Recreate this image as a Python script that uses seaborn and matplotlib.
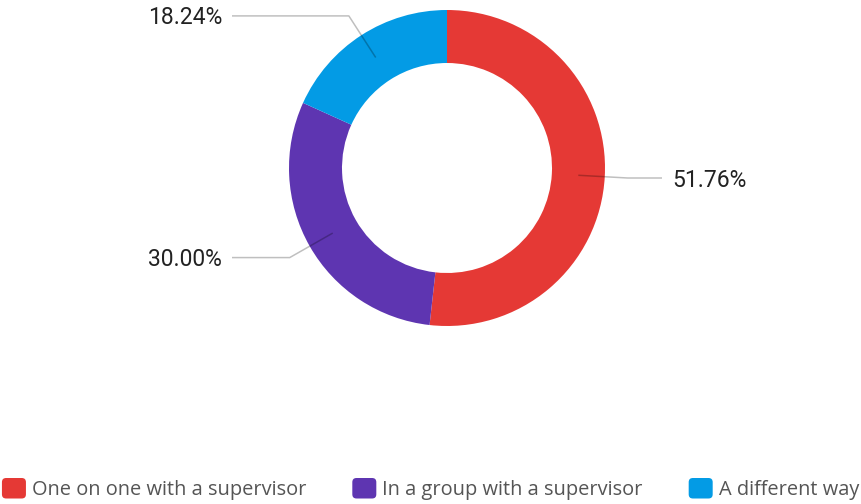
import numpy as np
import matplotlib
matplotlib.use("Agg")
import matplotlib.pyplot as plt
from matplotlib.patches import Patch, FancyBboxPatch
from matplotlib.legend_handler import HandlerPatch
import seaborn as sns

# Survey answers and their shares (%)
categories = ["One on one with a supervisor", "In a group with a supervisor", "A different way"]
shares = [51.76, 30.00, 18.24]
colors = ["#E53935", "#5E35B1", "#039BE5"]

sns.set_theme(style="white")
palette = sns.color_palette(colors)

W, H = 861, 504
fig = plt.figure(figsize=(W / 100, H / 100), dpi=100)
ax = fig.add_axes([0, 0, 1, 1])

cx, cy = 447, H - 168
r_out, ring = 158, 53

wedges, _ = ax.pie(
    shares, colors=palette, startangle=90, counterclock=False,
    radius=r_out, center=(cx, cy),
    wedgeprops=dict(width=ring, linewidth=0),
)
ax.set_xlim(0, W)
ax.set_ylim(0, H)
ax.set_aspect("equal")
ax.axis("off")

# Leader lines with elbow and percentage labels
r_mid = r_out - ring / 2
r_elbow = 181
reach = 215
for w, val in zip(wedges, shares):
    ang = np.deg2rad((w.theta1 + w.theta2) / 2)
    x0, y0 = cx + r_mid * np.cos(ang), cy + r_mid * np.sin(ang)
    x1, y1 = cx + r_elbow * np.cos(ang), cy + r_elbow * np.sin(ang)
    side = 1 if np.cos(ang) >= 0 else -1
    x2 = cx + side * reach
    ax.plot([x0, x1, x2], [y0, y1, y1], color="black", alpha=0.25,
            lw=1.1, solid_capstyle="butt", zorder=5)
    ax.text(x2 + side * 10, y1 - 2, f"{val:.2f}%", ha="left" if side > 0 else "right",
            va="center", fontsize=16.5, color="#222222", family=["Roboto", "DejaVu Sans"])


class RoundedSquare(HandlerPatch):
    def create_artists(self, legend, orig_handle, xdescent, ydescent,
                       width, height, fontsize, trans):
        p = FancyBboxPatch((-xdescent, -ydescent), width, height,
                           boxstyle="round,pad=0,rounding_size=3",
                           facecolor=orig_handle.get_facecolor(),
                           linewidth=0, transform=trans)
        return [p]


handles = [Patch(facecolor=c, label=l) for c, l in zip(palette, categories)]
leg = fig.legend(
    handles=handles, loc="center", bbox_to_anchor=(0.5, 15 / H),
    ncol=3, frameon=False,
    handlelength=1.2, handleheight=1.2, handletextpad=0.3,
    columnspacing=2.3, borderaxespad=0,
    handler_map={Patch: RoundedSquare()},
    prop={"family": ["Open Sans", "DejaVu Sans"], "size": 14.4},
)
for t in leg.get_texts():
    t.set_color("#555555")

fig.savefig("out.png", dpi=100, facecolor="white")
